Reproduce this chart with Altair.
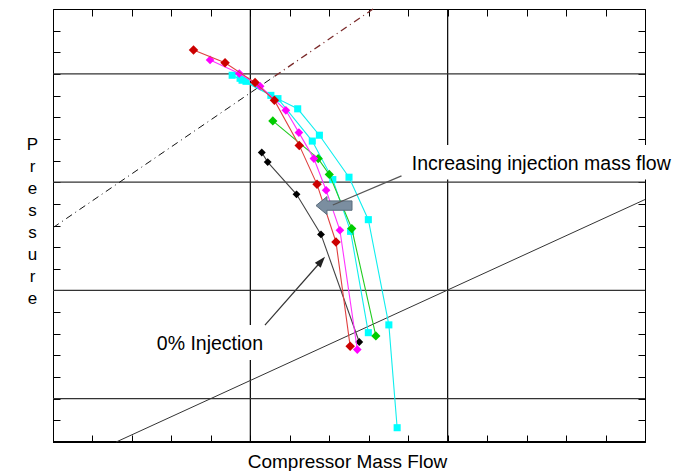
import altair as alt
import pandas as pd

# ---- data (arbitrary units: x = compressor mass flow, y = pressure) ----
red_x = [3.56, 4.36, 5.12, 5.61, 6.24, 6.69, 7.17, 7.53]
red_y = [18.11, 17.52, 16.60, 15.78, 13.70, 11.90, 9.24, 4.42]
magenta_x = [3.98, 4.72, 5.25, 5.90, 6.23, 6.61, 6.92, 7.27, 7.71]
magenta_y = [17.65, 17.02, 16.43, 15.32, 14.29, 13.09, 11.63, 9.78, 4.27]
cyan_a_x = [4.54, 4.79, 5.52, 6.20, 6.75, 7.50, 7.99, 8.51, 8.72]
cyan_a_y = [16.94, 16.71, 16.01, 15.39, 14.17, 12.23, 10.27, 5.41, 0.66]
cyan_b_x = [4.74, 4.89, 5.70, 6.57, 7.09, 7.54, 7.99]
cyan_b_y = [16.80, 16.66, 15.86, 13.90, 12.12, 9.73, 5.05]
green_x = [5.57, 6.72, 7.00, 7.57, 8.18]
green_y = [14.83, 13.09, 12.36, 9.86, 4.90]
black_x = [5.29, 5.44, 6.17, 6.79, 7.76]
black_y = [13.37, 12.93, 11.44, 9.59, 4.62]

# reference lines
surge_low_x = [0.0, 5.62]
surge_low_y = [9.9, 16.9]
surge_high_x = [5.62, 8.11]
surge_high_y = [16.9, 20.0]
oper_x = [1.6, 15.0]
oper_y = [0.0, 11.2]

# grid / ticks
x_grid = [5, 10]
y_grid = [2, 7, 12, 17]
x_ticks = list(range(0, 16))
y_ticks = list(range(0, 21))

# annotations
inc_label = "Increasing injection mass flow"
inc_pos = (9.09, 12.56)
inc_box = (8.92, 15.9, 12.12, 13.72)
inc_line_x = [8.83, 7.09]
inc_line_y = [12.29, 10.95]
block_arrow_pos = (7.12, 10.92)

zero_label = "0% Injection"
zero_pos = (2.63, 4.25)
zero_box = (2.46, 5.50, 3.79, 5.40)
zero_line_x = [5.37, 6.80]
zero_line_y = [5.40, 8.36]

FONT = "Liberation Sans"
xs = alt.Scale(domain=[0, 15], nice=False, zero=False)
ys = alt.Scale(domain=[0, 20], nice=False, zero=False)


def X(field="x"):
    return alt.X(f"{field}:Q", scale=xs, axis=None)


def Y(field="y"):
    return alt.Y(f"{field}:Q", scale=ys, axis=None)


layers = []

# axes (inward ticks)
ax_df = pd.DataFrame({"x": [0.0], "y": [0.0]})
layers.append(
    alt.Chart(ax_df).mark_point(opacity=0).encode(
        x=alt.X("x:Q", scale=xs, axis=alt.Axis(
            orient="bottom", values=x_ticks, labels=False, tickSize=7, tickColor="black",
            tickWidth=1, offset=-7, domain=False, grid=False,
            title="Compressor Mass Flow", titleFont=FONT, titleFontSize=19,
            titleFontWeight="normal", titleColor="black", titleX=294, titleY=32,
            titleAlign="center", titleBaseline="alphabetic")),
        y=alt.Y("y:Q", scale=ys, axis=alt.Axis(
            orient="left", values=y_ticks, labels=False, tickSize=7, tickColor="black",
            tickWidth=1, offset=-7, domain=False, grid=False,
            title=list("Pressure"), titleAngle=0, titleFont=FONT, titleFontSize=17,
            titleFontWeight="normal", titleColor="black", titleX=-28, titleY=140,
            titleAlign="center", titleBaseline="alphabetic", titleLineHeight=22)),
    )
)
layers.append(
    alt.Chart(ax_df).mark_point(opacity=0).encode(
        x=alt.X("x:Q", scale=xs, axis=alt.Axis(
            orient="top", values=x_ticks, labels=False, tickSize=7, tickColor="black",
            tickWidth=1, offset=-7, domain=False, grid=False, title="")),
        y=alt.Y("y:Q", scale=ys, axis=alt.Axis(
            orient="right", values=y_ticks, labels=False, tickSize=7, tickColor="black",
            tickWidth=1, offset=-7, domain=False, grid=False, title="")),
    )
)

# grid lines
layers.append(alt.Chart(pd.DataFrame({"x": x_grid})).mark_rule(color="black", strokeWidth=1.2).encode(x=X()))
layers.append(alt.Chart(pd.DataFrame({"y": y_grid})).mark_rule(color="#333333", strokeWidth=1.3).encode(y=Y()))

# bottom thick frame
layers.append(alt.Chart(pd.DataFrame({"x": [0.0], "x2": [15.0], "y": [0.0]})).mark_rule(
    color="black", strokeWidth=2.2).encode(x=X(), x2="x2:Q", y=Y()))

# reference lines
layers.append(alt.Chart(pd.DataFrame({"x": surge_low_x, "y": surge_low_y})).mark_line(
    color="#111111", strokeWidth=1, strokeDash=[7, 4, 1, 4]).encode(x=X(), y=Y()))
layers.append(alt.Chart(pd.DataFrame({"x": surge_high_x, "y": surge_high_y})).mark_line(
    color="#7a2a2a", strokeWidth=1.3, strokeDash=[7, 4, 1, 4]).encode(x=X(), y=Y()))
layers.append(alt.Chart(pd.DataFrame({"x": oper_x, "y": oper_y})).mark_line(
    color="#333333", strokeWidth=1).encode(x=X(), y=Y()))

# white label boxes
for bx in (inc_box, zero_box):
    layers.append(alt.Chart(pd.DataFrame({"x": [bx[0]], "x2": [bx[1]], "y": [bx[2]], "y2": [bx[3]]})).mark_rect(
        color="white").encode(x=X(), x2="x2:Q", y=Y(), y2="y2:Q"))

# data series
series = [
    ("cyanA", cyan_a_x, cyan_a_y, "#00ffff", "#10eeee", "square", 50),
    ("cyanB", cyan_b_x, cyan_b_y, "#00ffff", "#10eeee", "square", 50),
    ("black", black_x, black_y, "#000000", "#444444", "diamond", 62),
    ("green", green_x, green_y, "#00cc00", "#22cc22", "diamond", 85),
    ("magenta", magenta_x, magenta_y, "#ff00ff", "#ff33ff", "diamond", 75),
    ("red", red_x, red_y, "#cc0000", "#e04040", "diamond", 90),
]
for name, sx, sy, mcol, lcol, shape, size in series:
    df = pd.DataFrame({"x": sx, "y": sy, "i": list(range(len(sx)))})
    layers.append(alt.Chart(df).mark_line(color=lcol, strokeWidth=1.1).encode(
        x=X(), y=Y(), order="i:Q"))
    layers.append(alt.Chart(df).mark_point(shape=shape, size=size, filled=True, color=mcol, opacity=1).encode(
        x=X(), y=Y()))

# block arrow
arrow_path = "M -1 0 L -0.39 -0.5 L -0.39 -0.26 L 1 -0.26 L 1 0.26 L -0.39 0.26 L -0.39 0.5 Z"
layers.append(alt.Chart(pd.DataFrame({"x": [block_arrow_pos[0]], "y": [block_arrow_pos[1]]})).mark_point(
    shape=arrow_path, size=1296, filled=True, fill="#7b8ea0", stroke="#5a6c7c", strokeWidth=1,
    opacity=1).encode(x=X(), y=Y()))

# pointer lines
layers.append(alt.Chart(pd.DataFrame({"x": inc_line_x, "y": inc_line_y})).mark_line(
    color="#555555", strokeWidth=1.2).encode(x=X(), y=Y()))
layers.append(alt.Chart(pd.DataFrame({"x": zero_line_x, "y": zero_line_y})).mark_line(
    color="#333333", strokeWidth=1.2).encode(x=X(), y=Y()))
layers.append(alt.Chart(pd.DataFrame({"x": [zero_line_x[1]], "y": [zero_line_y[1]]})).mark_point(
    shape="M 0 -1 L 0.7 1 L -0.7 1 Z", size=121, angle=41, filled=True, color="#222222",
    opacity=1).encode(x=X(), y=Y()))

# labels
layers.append(alt.Chart(pd.DataFrame({"x": [inc_pos[0]], "y": [inc_pos[1]], "t": [inc_label]})).mark_text(
    align="left", baseline="alphabetic", font=FONT, fontSize=19.5, color="black").encode(
    x=X(), y=Y(), text="t:N"))
layers.append(alt.Chart(pd.DataFrame({"x": [zero_pos[0]], "y": [zero_pos[1]], "t": [zero_label]})).mark_text(
    align="left", baseline="alphabetic", font=FONT, fontSize=19.5, color="black").encode(
    x=X(), y=Y(), text="t:N"))

chart = alt.layer(*layers).properties(
    width=592, height=433,
    autosize=alt.AutoSizeParams(type="none"),
    padding={"left": 45, "top": 1, "right": 37, "bottom": 29},
).resolve_axis(x="independent", y="independent").configure_view(stroke="black", strokeWidth=1)

chart.save("out.html", embed_options={"renderer": "svg", "actions": False})
